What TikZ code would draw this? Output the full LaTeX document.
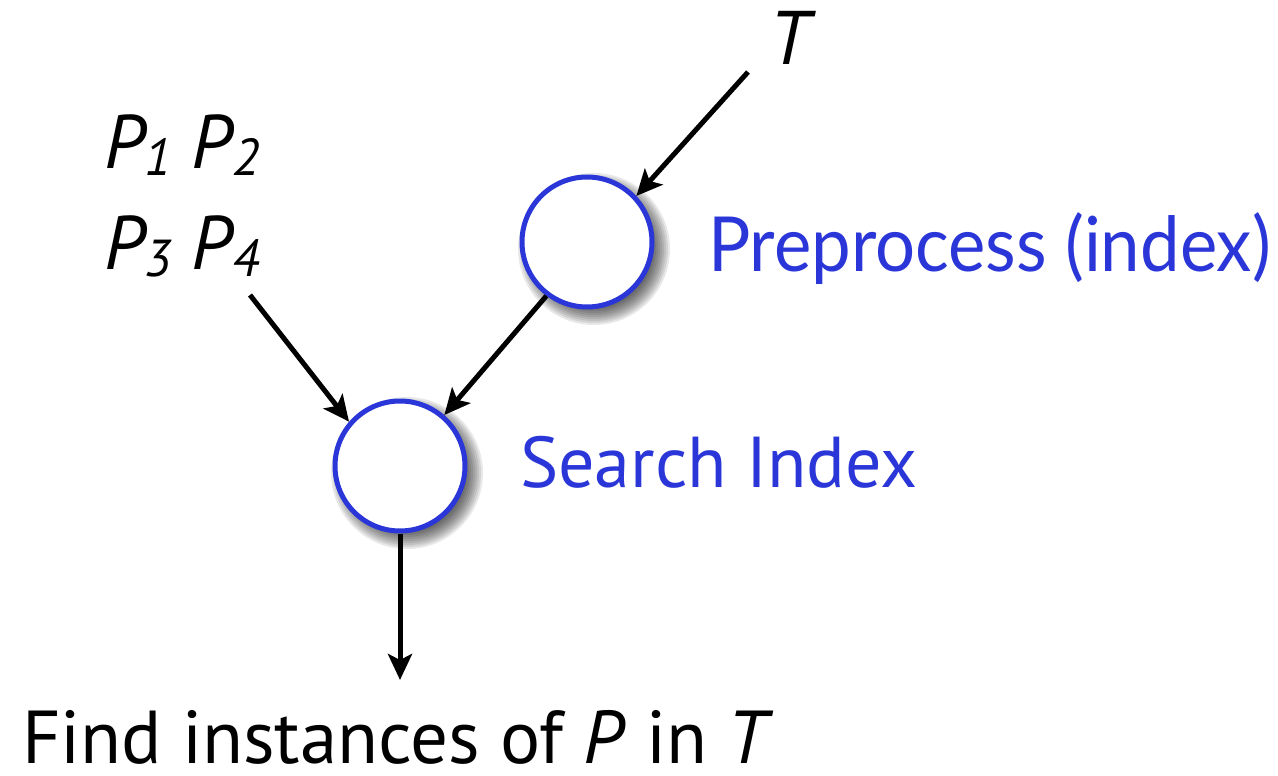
\documentclass[tikz,border=0pt]{standalone}
\usepackage{fontspec}
\setmainfont{PT Sans}
\newfontfamily\gillfont{Lato}
\usetikzlibrary{arrows.meta,calc}
\definecolor{nodeblue}{RGB}{42,54,216}
\tikzset{
  conn/.style={line width=5pt, -{Stealth[length=26pt,width=24pt,inset=6pt]}},
  ring/.style={circle, draw=nodeblue, line width=5pt, fill=white, minimum size=130pt, inner sep=0pt},
  lbl/.style={anchor=base west, inner sep=0pt, outer sep=0pt},
}
\newcommand{\fs}[1]{\fontsize{#1}{#1}\selectfont}
\newcommand{\softshadow}[1]{%
  \foreach \r in {60,62,...,76}{\fill[black, opacity=0.09] ($(#1)+(7,7)$) circle (\r pt);}}
\begin{document}
\begin{tikzpicture}[x=1pt, y=-1pt]
\useasboundingbox (0,0) rectangle (1278,776);
% shadows
\softshadow{587,242}
\softshadow{400,466}
\node[ring] (c1) at (587,242) {};
\node[ring] (c2) at (400,466) {};
% texts
\node[lbl, anchor=base] (t) at (790,65) {\fs{76}\itshape T};
\node[lbl] (p12) at (104,168) {\fs{76}\itshape P\raisebox{-7pt}{\fs{52}1} P\raisebox{-7pt}{\fs{52}2}};
\node[lbl] (p34) at (104,269) {\fs{76}\itshape P\raisebox{-7pt}{\fs{52}3} P\raisebox{-7pt}{\fs{52}4}};
\node[lbl, text=nodeblue] (pre) at (708,271) {\scalebox{0.93}[1]{\gillfont\fs{76}Preprocess (index)}};
\node[lbl, text=nodeblue] (srch) at (520,487) {\fs{72}Search Index};
\node[lbl] (find) at (22,763) {\fs{75}Find instances of \textit{P} in \textit{T}};
% connectors
\coordinate (tstart) at (748,72);
\coordinate (pstart) at (250,295);
\coordinate (fend) at (400,680);
\draw[conn] (tstart) -- (c1.43);
\draw[conn] (pstart) -- (c2.139);
\draw[conn] (c1.233) -- (c2.49);
\draw[conn] (c2.south) -- (fend);
\end{tikzpicture}
\end{document}
